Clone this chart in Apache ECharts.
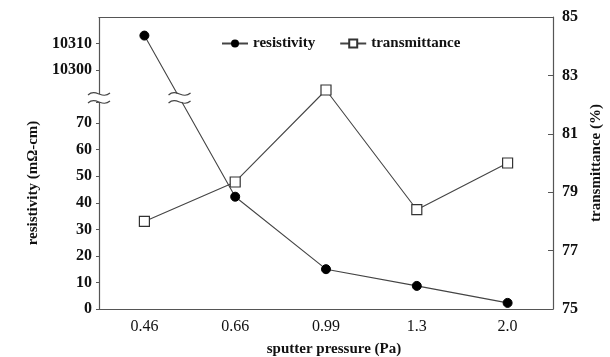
<!DOCTYPE html>
<html>
<head>
    <meta charset="UTF-8">
    <title>resistivity / transmittance</title>
    <script src="https://cdn.jsdelivr.net/npm/echarts@6.0.0/dist/echarts.min.js"></script>
    <style>
        html, body { margin: 0; padding: 0; background: #fff; }
        #chart { width: 610px; height: 357px; }
    </style>
</head>
<body>
<div id="chart"></div>
<script>
    // data
    var pressures = ['0.46', '0.66', '0.99', '1.3', '2.0'];
    var resistivity = [10313, 42.3, 15, 8.7, 2.3];
    var transmittance = [78.0, 79.35, 82.5, 78.4, 80.0];

    // the left axis jumps from ~78 up to ~10291
    var breakStart = 78;
    var breakEnd = 10291;

    var axisColor = '#555';
    var font = 'Liberation Serif';

    var chart = echarts.init(document.getElementById('chart'));

    var option = {
        animation: false,
        grid: { left: 99, right: 57, top: 17, bottom: 48, outerBoundsMode: 'none', containLabel: false },
        legend: {
            left: 216,
            top: 31,
            itemWidth: 26,
            itemHeight: 10,
            itemGap: 24,
            textStyle: { fontFamily: font, fontSize: 15, fontWeight: 'bold', color: '#111' },
            data: ['resistivity', 'transmittance']
        },
        xAxis: [
            {
                type: 'category',
                data: pressures,
                boundaryGap: true,
                name: 'sputter pressure (Pa)',
                nameLocation: 'middle',
                nameGap: 33,
                nameTextStyle: { fontFamily: font, fontSize: 15, fontWeight: 'bold', color: '#111', padding: [0, 0, 0, 16] },
                axisLine: { lineStyle: { color: axisColor, width: 1.2 } },
                axisTick: { inside: true, length: 5, lineStyle: { color: axisColor } },
                axisLabel: { fontFamily: font, fontSize: 16, color: '#111', margin: 10 },
                splitLine: { show: false }
            },
            {
                // top border of the frame
                type: 'category',
                position: 'top',
                data: pressures,
                axisLine: { lineStyle: { color: axisColor, width: 1.2 } },
                axisTick: { show: false },
                axisLabel: { show: false },
                splitLine: { show: false }
            }
        ],
        yAxis: [
            {
                type: 'value',
                min: 0,
                max: 10320,
                interval: 10,
                breaks: [{ start: breakStart, end: breakEnd, gap: 3 }],
                breakArea: { show: false, expandOnClick: false },
                name: 'resistivity (mΩ-cm)',
                nameLocation: 'middle',
                nameRotate: 90,
                nameGap: 56,
                nameTextStyle: { fontFamily: font, fontSize: 15, fontWeight: 'bold', color: '#111', padding: [0, 40, 0, 0] },
                axisLine: { show: true, lineStyle: { color: axisColor, width: 1.2 } },
                axisTick: { show: true, inside: false, length: 3, lineStyle: { color: axisColor } },
                axisLabel: {
                    fontFamily: font, fontSize: 16, fontWeight: 'bold', color: '#111', margin: 7,
                    showMaxLabel: false,
                    formatter: function (v) {
                        // hide the break edge labels and the top one
                        if (v % 10 !== 0 || v === 10320) return '';
                        return String(v);
                    }
                },
                splitLine: { show: false }
            },
            {
                type: 'value',
                position: 'right',
                min: 75,
                max: 85,
                interval: 2,
                name: 'transmittance (%)',
                nameLocation: 'middle',
                nameRotate: 90,
                nameGap: 36,
                nameTextStyle: { fontFamily: font, fontSize: 15, fontWeight: 'bold', color: '#111' },
                axisLine: { show: true, lineStyle: { color: axisColor, width: 1.2 } },
                axisTick: { show: true, inside: true, length: 5, lineStyle: { color: axisColor } },
                axisLabel: { fontFamily: font, fontSize: 16, fontWeight: 'bold', color: '#111', margin: 9 },
                splitLine: { show: false }
            }
        ],
        series: [
            {
                name: 'resistivity',
                type: 'line',
                yAxisIndex: 0,
                data: resistivity,
                symbol: 'circle',
                symbolSize: 9,
                itemStyle: { color: '#000', borderColor: '#000' },
                lineStyle: { color: '#444', width: 1.1 }
            },
            {
                name: 'transmittance',
                type: 'line',
                yAxisIndex: 1,
                data: transmittance,
                symbol: 'rect',
                symbolSize: 10,
                itemStyle: { color: '#fff', borderColor: '#333', borderWidth: 1.2 },
                lineStyle: { color: '#444', width: 1.1 }
            }
        ]
    };

    chart.setOption(option);

    // break marks: a pair of "~" strokes on the axis and on the resistivity line
    function wave(cx, y) {
        return {
            type: 'bezierCurve', z: 101,
            shape: { x1: cx - 11, y1: y + 1, cpx1: cx - 3, cpy1: y - 6, cpx2: cx + 3, cpy2: y + 6, x2: cx + 11, y2: y - 1 },
            style: { fill: null, stroke: '#444', lineWidth: 1.2 }
        };
    }
    function breakMark(cx, yLow, yHigh) {
        return [
            { type: 'rect', z: 100, shape: { x: cx - 6, y: yHigh, width: 12, height: yLow - yHigh },
              style: { fill: '#fff' } },
            wave(cx, yHigh),
            wave(cx, yLow)
        ];
    }

    var yLow = chart.convertToPixel({ yAxisIndex: 0 }, breakStart);
    var yHigh = chart.convertToPixel({ yAxisIndex: 0 }, breakEnd);
    var x0 = chart.convertToPixel({ xAxisIndex: 0 }, pressures[0]);
    var x1 = chart.convertToPixel({ xAxisIndex: 0 }, pressures[1]);
    var axisX = x0 - (x1 - x0) / 2;   // left edge of the first band = the y axis
    var p0 = chart.convertToPixel({ seriesIndex: 0 }, [0, resistivity[0]]);
    var p1 = chart.convertToPixel({ seriesIndex: 0 }, [1, resistivity[1]]);
    var yMid = (yLow + yHigh) / 2;
    var lineX = p0[0] + (p1[0] - p0[0]) * (yMid - p0[1]) / (p1[1] - p0[1]);

    chart.setOption({
        graphic: breakMark(axisX, yLow, yHigh).concat(breakMark(lineX, yLow, yHigh))
    });
</script>
</body>
</html>
